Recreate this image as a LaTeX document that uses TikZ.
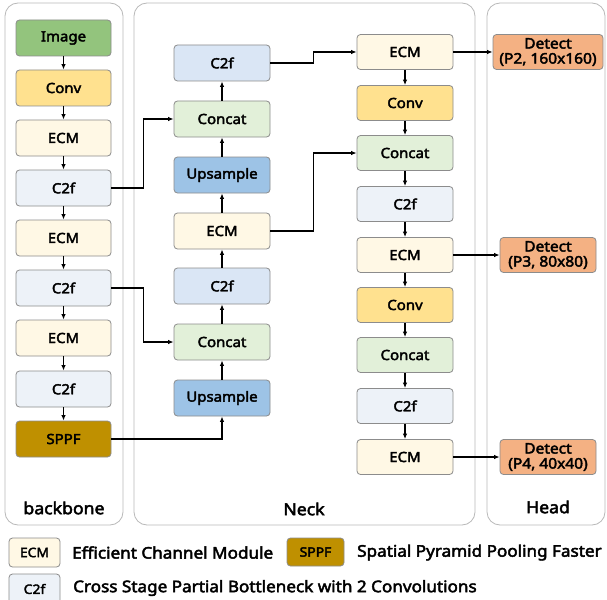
\documentclass[tikz,border=0pt]{standalone}
\usepackage{fontspec}
\setmainfont{Noto Sans}[BoldFont={Noto Sans}, BoldFeatures={FakeBold=2.8, FakeStretch=1.07}]
\usetikzlibrary{arrows.meta}
\definecolor{cImage}{RGB}{147,196,125}
\definecolor{cConv}{RGB}{255,225,143}
\definecolor{cECM}{RGB}{255,248,229}
\definecolor{cCtwo}{RGB}{237,242,248}
\definecolor{cCtwoN}{RGB}{218,230,245}
\definecolor{cConcat}{RGB}{226,240,217}
\definecolor{cUp}{RGB}{157,195,230}
\definecolor{cSPPF}{RGB}{191,144,0}
\definecolor{cDet}{RGB}{244,177,131}
\definecolor{cPanel}{RGB}{185,185,185}
\definecolor{cBorder}{RGB}{140,140,140}
\tikzset{
  blk/.style={draw=cBorder, line width=0.8pt, rounded corners=3.5pt, minimum width=95pt, minimum height=36pt, inner sep=0pt, font=\fontsize{14}{15}\selectfont\bfseries, align=center},
  panel/.style={draw=cPanel, line width=0.8pt, rounded corners=13pt},
  arr/.style={draw=black, line width=1.1pt, -{Latex[length=5.5pt,width=4.5pt]}},
  lbl/.style={font=\fontsize{16.5}{18}\selectfont\bfseries},
  legtxt/.style={font=\fontsize{16}{17}\selectfont\bfseries, anchor=west, inner sep=0pt},
  legbox/.style={draw=cBorder, line width=0.8pt, rounded corners=3.5pt, minimum width=51pt, minimum height=29pt, inner sep=0pt, font=\fontsize{13}{14}\selectfont\bfseries},
  detbox/.style={blk, fill=cDet, minimum width=96pt, minimum height=35pt, font=\fontsize{14.5}{15}\selectfont\bfseries}
}
\begin{document}
\begin{tikzpicture}[x=1pt,y=-1pt]
\useasboundingbox (0,0) rectangle (607,599);
\clip (0,0) rectangle (607,599);
\fill[white] (0,0) rectangle (607,599);
% panels
\draw[panel] (5,3) rectangle (123,525);
\draw[panel] (134,3) rectangle (475,525);
\draw[panel] (487,3) rectangle (605,525);
\node[lbl] (lb) at (64,508) {backbone};
\node[lbl] (ln) at (304,509) {Neck};
\node[lbl] (lh) at (548,507) {Head};
% backbone
\node[blk, fill=cImage] (b1) at (63.5,38) {Image};
\node[blk, fill=cConv] (b2) at (63.5,88) {Conv};
\node[blk, fill=cECM] (b3) at (63.5,138) {ECM};
\node[blk, fill=cCtwo] (b4) at (63.5,188) {C2f};
\node[blk, fill=cECM] (b5) at (63.5,238) {ECM};
\node[blk, fill=cCtwo] (b6) at (63.5,288) {C2f};
\node[blk, fill=cECM] (b7) at (63.5,338) {ECM};
\node[blk, fill=cCtwo] (b8) at (63.5,389) {C2f};
\node[blk, fill=cSPPF] (b9) at (63.5,439) {SPPF};
\foreach \a/\b in {b1/b2,b2/b3,b3/b4,b4/b5,b5/b6,b6/b7,b7/b8,b8/b9}
  \draw[arr] (\a.south) -- (\b.north);
% neck left column
\node[blk, fill=cCtwoN, minimum width=96pt] (n1) at (222,63) {C2f};
\node[blk, fill=cConcat, minimum width=96pt] (n2) at (222,119) {Concat};
\node[blk, fill=cUp, minimum width=96pt] (n3) at (222,175) {Upsample};
\node[blk, fill=cECM, minimum width=96pt] (n4) at (222,231) {ECM};
\node[blk, fill=cCtwoN, minimum width=96pt] (n5) at (222,286) {C2f};
\node[blk, fill=cConcat, minimum width=96pt] (n6) at (222,342) {Concat};
\node[blk, fill=cUp, minimum width=96pt] (n7) at (222,398) {Upsample};
\foreach \a/\b in {n7/n6,n6/n5,n5/n4,n4/n3,n3/n2,n2/n1}
  \draw[arr] (\a.north) -- (\b.south);
% neck right column
\node[blk, fill=cECM, minimum width=96pt, minimum height=35pt] (r1) at (405,52) {ECM};
\node[blk, fill=cConv, minimum width=96pt, minimum height=35pt] (r2) at (405,103) {Conv};
\node[blk, fill=cConcat, minimum width=96pt, minimum height=35pt] (r3) at (405,153) {Concat};
\node[blk, fill=cCtwo, minimum width=96pt, minimum height=35pt] (r4) at (405,204) {C2f};
\node[blk, fill=cECM, minimum width=96pt, minimum height=35pt] (r5) at (405,255) {ECM};
\node[blk, fill=cConv, minimum width=96pt, minimum height=35pt] (r6) at (405,305) {Conv};
\node[blk, fill=cConcat, minimum width=96pt, minimum height=35pt] (r7) at (405,355) {Concat};
\node[blk, fill=cCtwo, minimum width=96pt, minimum height=35pt] (r8) at (405,406) {C2f};
\node[blk, fill=cECM, minimum width=96pt, minimum height=35pt] (r9) at (405,457) {ECM};
\foreach \a/\b in {r1/r2,r2/r3,r3/r4,r4/r5,r5/r6,r6/r7,r7/r8,r8/r9}
  \draw[arr] (\a.south) -- (\b.north);
% head
\node[detbox, minimum width=110pt] (d1) at (548,52) {Detect\\(P2, 160x160)};
\node[detbox] (d2) at (548,255) {Detect\\(P3, 80x80)};
\node[detbox] (d3) at (548,457) {Detect\\(P4, 40x40)};
\draw[arr] (r1.east) -- (d1.west);
\draw[arr] (r5.east) -- (d2.west);
\draw[arr] (r9.east) -- (d3.west);
% cross connections
\draw[arr] (b4.east) -- ([xshift=32pt]b4.east) |- (n2.west);
\draw[arr] (b6.east) -- ([xshift=32pt]b6.east) |- (n6.west);
\draw[arr] (b9.east) -| (n7.south);
\draw[arr] (n1.east) -- ([xshift=43pt]n1.east) |- (r1.west);
\draw[arr] (n4.east) -- ([xshift=43pt]n4.east) |- (r3.west);
% legend
\node[legbox, fill=cECM] (k1) at (34.5,552.5) {ECM};
\node[legtxt] (t1) at (72,552.5) {Efficient Channel Module};
\node[legbox, fill=cSPPF, minimum width=57pt, minimum height=28pt] (k2) at (315.5,552) {SPPF};
\node[legtxt] (t2) at (357,552.5) {Spatial Pyramid Pooling Faster};
\node[legbox, fill=cCtwo, minimum height=30pt] (k3) at (34.5,589) {C2f};
\node[legtxt] (t3) at (73,588) {Cross Stage Partial Bottleneck with 2 Convolutions};
\end{tikzpicture}
\end{document}
